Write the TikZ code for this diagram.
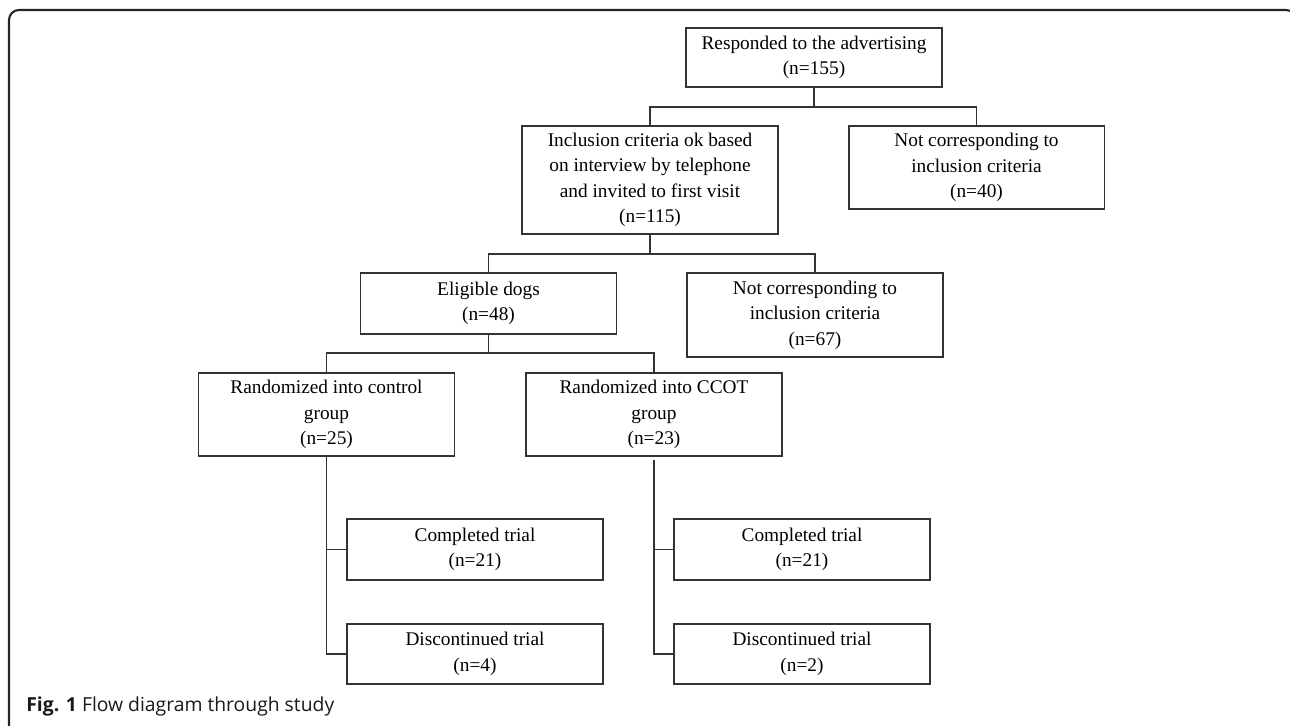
\documentclass[tikz,border=0pt]{standalone}
\usepackage{fontspec}
\setmainfont{Liberation Serif}
\newfontfamily\capfont{Open Sans}
\definecolor{boxline}{HTML}{333333}

\begin{document}
\begin{tikzpicture}[x=0.02cm, y=-0.02cm,
    box/.style={draw=boxline, line width=1.1pt, align=center,
        minimum width=5.12cm, inner sep=2pt, font=\fontsize{11}{14.5}\selectfont},
    edge/.style={draw=boxline, line width=1.1pt, -}
]
    \useasboundingbox (0,0) rectangle (1290,725);
    % outer frame
    \draw[line width=1.2pt, draw=black!85, rounded corners=0.2cm]
        (9,740) -- (9,10) -- (1296,10) -- (1296,740);

    \node[box, minimum height=1.18cm] (resp) at (814,57.5) {Responded to the advertising\\(n=155)};
    \node[box, minimum height=2.16cm] (incl) at (650,180) {Inclusion criteria ok based\\on interview by telephone\\and invited to first visit\\(n=115)};
    \node[box, minimum height=1.66cm] (nc40) at (976.5,167.5) {Not corresponding to\\inclusion criteria\\(n=40)};
    \node[box, minimum height=1.22cm] (elig) at (488.5,303.5) {Eligible dogs\\(n=48)};
    \node[box, minimum height=1.68cm] (nc67) at (815,315) {Not corresponding to\\inclusion criteria\\(n=67)};
    \node[box, minimum height=1.66cm] (ctrl) at (326.5,414.5) {Randomized into control\\group\\(n=25)};
    \node[box, minimum height=1.66cm] (ccot) at (654,414.5) {Randomized into CCOT\\group\\(n=23)};
    \node[box, minimum height=1.22cm] (comp1) at (475,549.5) {Completed trial\\(n=21)};
    \node[box, minimum height=1.2cm] (disc1) at (475,654) {Discontinued trial\\(n=4)};
    \node[box, minimum height=1.22cm] (comp2) at (802,549.5) {Completed trial\\(n=21)};
    \node[box, minimum height=1.2cm] (disc2) at (802,654) {Discontinued trial\\(n=2)};

    % branch points
    \coordinate (j1) at (814,107);
    \coordinate (j2) at (650,254);
    \coordinate (j3) at (488.5,353);

    \draw[edge] (resp.south) -- (j1) -| (incl.north);
    \draw[edge] (j1) -| (nc40.north);
    \draw[edge] (incl.south) -- (j2) -| (elig.north);
    \draw[edge] (j2) -| (nc67.north);
    \draw[edge] (elig.south) -- (j3) -| (ctrl.north);
    \draw[edge] (j3) -| (ccot.north);
    \draw[edge] (ctrl.south) |- (comp1.west);
    \draw[edge] (ctrl.south) |- (disc1.west);
    \draw[edge, shorten <=0.06cm] (ccot.south) |- (comp2.west);
    \draw[edge, shorten <=0.06cm] (ccot.south) |- (disc2.west);

    \node[anchor=west, inner sep=0pt, text=black!90,
        font=\capfont\fontsize{11}{13}\selectfont] (cap) at (26,706)
        {\textbf{Fig. 1} Flow diagram through study};
\end{tikzpicture}
\end{document}
